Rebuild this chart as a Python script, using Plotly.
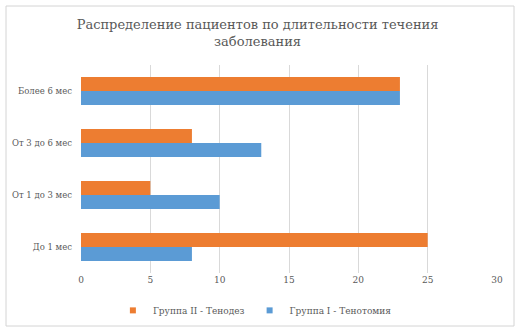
import plotly.graph_objects as go

categories = ["До 1 мес", "От 1 до 3 мес", "От 3 до 6 мес", "Более 6 мес"]
group1_name = "Группа I - Тенотомия"
group2_name = "Группа II - Тенодез"
group1_values = [8, 10, 13, 23]
group2_values = [25, 5, 8, 23]
x_ticks = [0, 5, 10, 15, 20, 25, 30]

FONT = "DejaVu Serif"
BLUE = "#5B9BD5"
ORANGE = "#ED7D31"
TXT = "#595959"

fig = go.Figure()
fig.add_trace(go.Bar(y=categories, x=group1_values, orientation="h", name=group1_name,
                     marker=dict(color=BLUE, line=dict(width=0)), showlegend=False))
fig.add_trace(go.Bar(y=categories, x=group2_values, orientation="h", name=group2_name,
                     marker=dict(color=ORANGE, line=dict(width=0)), showlegend=False))
fig.add_trace(go.Scatter(x=[None], y=[None], mode="markers", name=group1_name,
                         marker=dict(symbol="square", size=6, color=BLUE)))
fig.add_trace(go.Scatter(x=[None], y=[None], mode="markers", name=group2_name,
                         marker=dict(symbol="square", size=6, color=ORANGE)))

L, R, T, B = 81, 34, 65, 61
W, H = 531, 334
pw = W - L - R
ph = H - T - B

def px2x(p):
    return (p - L) / pw

def py2y(p):
    return (H - B - p) / ph

fig.update_layout(
    template="none",
    width=W, height=H,
    margin=dict(l=L, r=R, t=T, b=B, autoexpand=False),
    paper_bgcolor="white", plot_bgcolor="white",
    barmode="group", bargap=0.46, bargroupgap=0,
    font=dict(family=FONT, color=TXT, size=9),
    title=dict(text="Распределение пациентов по длительности течения<br>заболевания",
               x=0.485, xanchor="center", y=0.914, yanchor="top",
               font=dict(family=FONT, size=13, color=TXT)),
    xaxis=dict(range=[0, 30], tickvals=x_ticks, showgrid=True, gridcolor="#D9D9D9",
               gridwidth=1, zeroline=False, showline=False, ticks="",
               tickfont=dict(family=FONT, size=9, color=TXT), fixedrange=True,
               automargin=False),
    yaxis=dict(showgrid=False, showline=False, ticks="", ticklabelstandoff=8,
               tickfont=dict(family=FONT, size=8.5, color=TXT), fixedrange=True,
               automargin=False),
    legend=dict(orientation="h", x=0.418, xanchor="center", y=-0.11, yanchor="top",
                traceorder="reversed", font=dict(family=FONT, size=9, color=TXT),
                itemwidth=30, tracegroupgap=0),
    showlegend=True,
    shapes=[dict(type="rect", xref="paper", yref="paper",
                 x0=px2x(6), x1=px2x(514), y0=py2y(326), y1=py2y(6),
                 line=dict(color="#D4D4D4", width=1), fillcolor="rgba(0,0,0,0)",
                 layer="below")],
)

fig.write_html("out.html", config={"displayModeBar": False},
               post_script="document.body.style.margin='0';document.body.style.padding='0';")
